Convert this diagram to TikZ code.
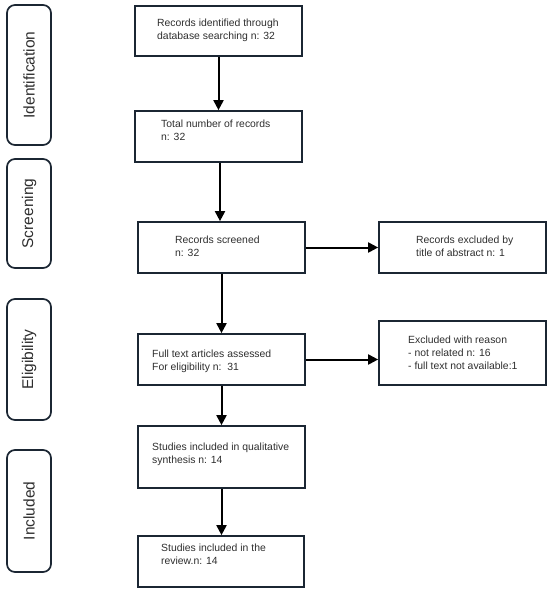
\documentclass[tikz,border=0pt]{standalone}
\usepackage{fontspec}
\setmainfont{Liberation Sans}
\usetikzlibrary{arrows.meta}
\definecolor{bordc}{HTML}{1B2633}
\definecolor{txtc}{HTML}{2E2E2E}
\tikzset{
  box/.style={draw=bordc, line width=1.7pt, rectangle, inner sep=0pt},
  side/.style={draw=bordc, line width=1.7pt, rectangle, rounded corners=8pt, minimum width=44pt, inner sep=0pt},
  sidetxt/.style={rotate=90, font=\fontsize{15.5}{18}\selectfont, text=txtc},
  btxt/.style={anchor=west, inner sep=0pt, align=left, text=txtc, font=\fontsize{10.4}{13}\selectfont},
  arr/.style={-{Triangle[length=10pt,width=10pt]}, line width=2pt, black}
}
\begin{document}
\begin{tikzpicture}[x=1pt,y=-1pt]
\useasboundingbox (0,0) rectangle (550,594);
% side labels
\node[side, minimum height=140pt] (s1) at (29,75) {};
\node[sidetxt] (s1t) at (s1.center) {Identification};
\node[side, minimum height=109pt] (s2) at (29,213.5) {};
\node[sidetxt] (s2t) at (s2.center) {Screening};
\node[side, minimum height=121pt] (s3) at (29,359.5) {};
\node[sidetxt] (s3t) at (s3.center) {Eligibility};
\node[side, minimum height=122pt] (s4) at (29,511) {};
\node[sidetxt] (s4t) at (s4.center) {Included};
% main boxes
\node[box, minimum width=167pt, minimum height=50pt] (b1) at (218.5,31) {};
\node[box, minimum width=167pt, minimum height=51pt] (b2) at (218.5,136.5) {};
\node[box, minimum width=167pt, minimum height=51pt] (b3) at (221.5,247.5) {};
\node[box, minimum width=167pt, minimum height=51pt] (b4) at (221.5,359.5) {};
\node[box, minimum width=167pt, minimum height=62pt] (b5) at (221.5,457) {};
\node[box, minimum width=166pt, minimum height=51pt] (b6) at (221,561.5) {};
\node[box, minimum width=167pt, minimum height=51pt] (r1) at (462.5,247.5) {};
\node[box, minimum width=167pt, minimum height=64pt] (r2) at (462.5,353) {};
% texts
\node[btxt] (t1) at (157,30.5) {Records identified through\\database searching n: 32};
\node[btxt] (t2) at (161,130) {Total number of records\\n: 32};
\node[btxt] (t3) at (175,246) {Records screened\\n: 32};
\node[btxt] (t4) at (152,361) {Full text articles assessed\\For eligibility n:\ \ 31};
\node[btxt] (t5) at (152,454.5) {Studies included in qualitative\\synthesis n: 14};
\node[btxt] (t6) at (161,554.5) {Studies included in the\\review.n: 14};
\node[btxt] (t7) at (416,246) {Records excluded by\\title of abstract n: 1};
\node[btxt] (t8) at (408,352.5) {Excluded with reason\\- not related n: 16\\- full text not available:1};
% arrows
\coordinate (c2) at ([xshift=1.5pt]b2.south);
\draw[arr] (b1.south) -- (b2.north -| b1.south);
\draw[arr] (c2) -- (b3.north -| c2);
\draw[arr] (b3.south) -- (b4.north);
\draw[arr] (b4.south) -- (b5.north);
\draw[arr] (b5.south) -- (b6.north -| b5.south);
\draw[arr] (b3.east) -- (r1.west);
\draw[arr] (b4.east) -- (b4.east -| r2.west);
\end{tikzpicture}
\end{document}
